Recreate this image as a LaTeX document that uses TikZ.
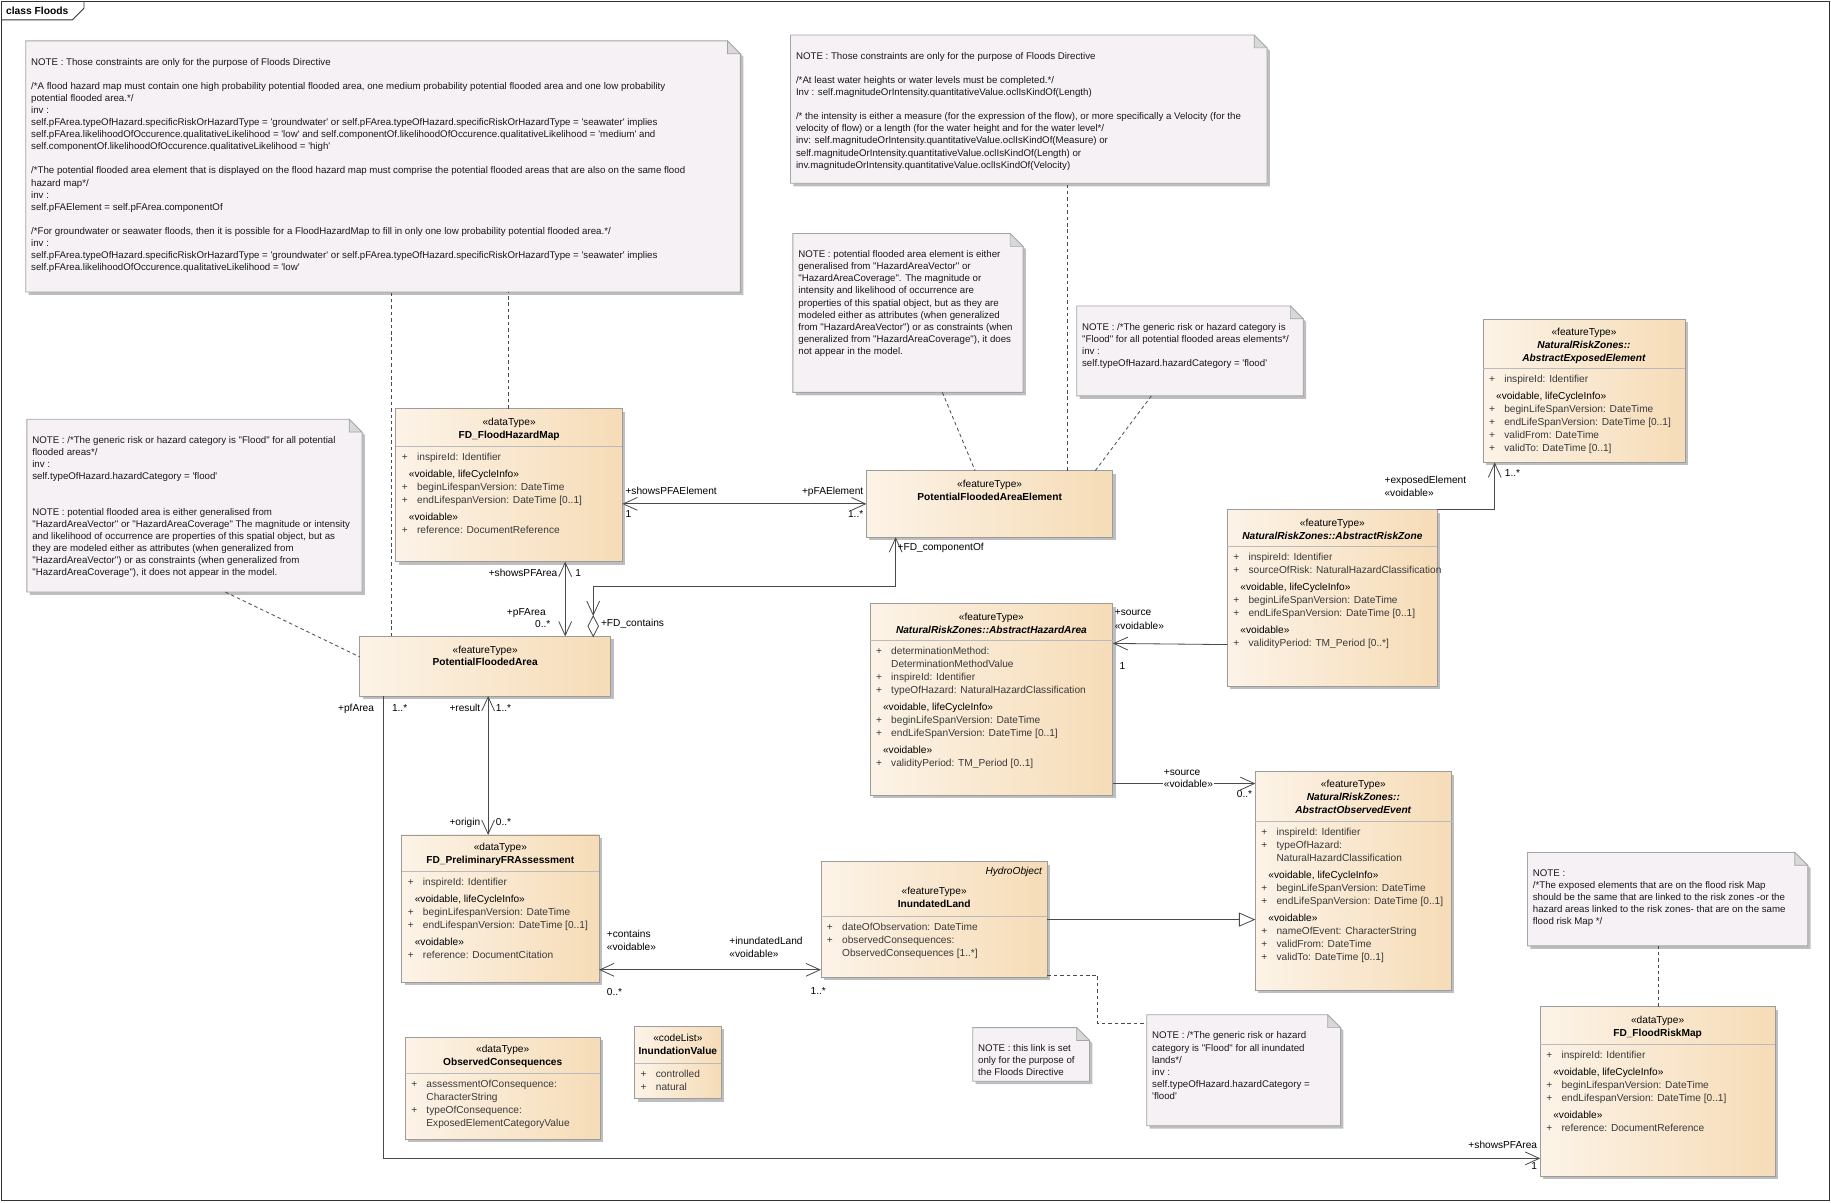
\documentclass[tikz,border=0pt]{standalone}
\usepackage{fontspec}
\setmainfont{Liberation Sans}[Ligatures=TeXOff]
\usepackage{tikz}
\usetikzlibrary{arrows.meta,shadows}
\definecolor{ClsLight}{HTML}{FCF3E7}
\definecolor{ClsDark}{HTML}{F6DCB7}
\definecolor{ClsLine}{HTML}{9C9C9C}
\definecolor{ClsSep}{HTML}{BABABA}
\definecolor{NoteFill}{HTML}{F5F1F5}
\definecolor{NoteLine}{HTML}{A5A5A5}
\definecolor{NoteFold}{HTML}{D8D8D8}
\definecolor{ShadowGrey}{HTML}{BEBEBE}
\definecolor{LinkGrey}{HTML}{4A4A4A}
\definecolor{AttrText}{HTML}{3A3A3A}

\newcommand{\hstrut}{\rule{0pt}{8pt}}
\newcommand{\attr}[1]{\makebox[13pt][l]{+}#1}
\newcommand{\attrcont}[1]{\hspace*{13pt}#1}
\newcommand{\stereo}[1]{\hspace*{6pt}{\color{black}«#1»}}

% class box: name, (x,y), width, height, separator offset, header offset, header, attributes
\newcommand{\umlclass}[8]{%
  \node[classbox, minimum width=#3pt, minimum height=#4pt] (#1) at #2 {};
  \node[classhead] (#1-h) at ([yshift=-#6pt]#1.north) {\hstrut#7};
  \draw[classsep] ([yshift=-#5pt]#1.north west) -- ([yshift=-#5pt]#1.north east);
  \node[classattr] (#1-a) at ([xshift=5pt,yshift=-#5pt-4pt]#1.north west) {\hstrut#8};
}
% class box with header only
\newcommand{\umlfeature}[5]{%
  \node[classbox, minimum width=#3pt, minimum height=#4pt] (#1) at #2 {};
  \node[classhead] (#1-h) at ([yshift=-6pt]#1.north) {\hstrut#5};
}
% note with folded corner
\newcommand{\umlnote}[5]{%
  \node[notearea, minimum width=#3pt, minimum height=#4pt] (#1) at #2 {};
  \filldraw[notebox] (#1.north west) -- ([xshift=-11pt]#1.north east) -- ([yshift=-11pt]#1.north east) -- (#1.south east) -- (#1.south west) -- cycle;
  \filldraw[notefold] ([xshift=-11pt]#1.north east) -- ([xshift=-11pt,yshift=-11pt]#1.north east) -- ([yshift=-11pt]#1.north east) -- cycle;
  \node[notetext] (#1-t) at ([xshift=4.5pt,yshift=-12.5pt]#1.north west) {\hstrut#5};
}

\begin{document}
\begin{tikzpicture}[
  x=1pt, y=-1pt,
  nav/.tip={Straight Barb[length=12pt,width=11pt]},
  gen/.tip={Triangle[open,length=14pt,width=12pt]},
  classbox/.style={draw=ClsLine, line width=0.7pt, left color=ClsLight, right color=ClsDark, anchor=north west, inner sep=0pt, outer sep=0pt, drop shadow={shadow xshift=2.5pt, shadow yshift=-2.5pt, fill=ShadowGrey, opacity=1}},
  classhead/.style={anchor=north, inner sep=0pt, align=center, font=\fontsize{8.7}{11.1}\selectfont},
  classattr/.style={anchor=north west, inner sep=0pt, align=left, text=AttrText, font=\fontsize{8.7}{11.1}\selectfont},
  classsep/.style={draw=ClsSep, line width=0.6pt},
  notearea/.style={anchor=north west, inner sep=0pt, outer sep=0pt},
  notebox/.style={draw=NoteLine, fill=NoteFill, line width=0.7pt, drop shadow={shadow xshift=2.5pt, shadow yshift=-2.5pt, fill=ShadowGrey, opacity=1}},
  notefold/.style={draw=NoteLine, fill=NoteFold, line width=0.6pt},
  notetext/.style={anchor=north west, inner sep=0pt, align=left, text=black!90, font=\fontsize{8.3}{10.35}\selectfont},
  notelink/.style={draw=LinkGrey, line width=0.7pt, dash pattern=on 3pt off 2.5pt},
  assoc/.style={draw=LinkGrey, line width=0.7pt},
  lbl/.style={inner sep=0.5pt, text height=6.3pt, text depth=1.8pt, font=\fontsize{8.7}{10}\selectfont}
]
\useasboundingbox (0,0) rectangle (1568,1030);

% frame
\node[draw=black!80, line width=0.7pt, anchor=north west, inner sep=0pt, minimum width=1565pt, minimum height=1027pt] (frame) at (1,1) {};
\node[anchor=west, inner sep=0pt, font=\fontsize{8.8}{10}\selectfont\bfseries] (title) at (5,9.5) {class Floods};
\draw[draw=black!80, line width=0.7pt] ([yshift=-16pt]frame.north west) -- ++(61,0) -- ++(10,-10) -- ++(0,-6);

% notes
\umlnote{n1}{(22,35)}{612}{215}{NOTE : Those constraints are only for the purpose of Floods Directive\\[10.4pt]
/*A flood hazard map must contain one high probability potential flooded area, one medium probability potential flooded area and one low probability\\
potential flooded area.*/\\
inv :\\
self.pFArea.typeOfHazard.specificRiskOrHazardType = 'groundwater' or self.pFArea.typeOfHazard.specificRiskOrHazardType = 'seawater' implies\\
self.pFArea.likelihoodOfOccurence.qualitativeLikelihood = 'low' and self.componentOf.likelihoodOfOccurence.qualitativeLikelihood = 'medium' and\\
self.componentOf.likelihoodOfOccurence.qualitativeLikelihood = 'high'\\[10.4pt]
/*The potential flooded area element that is displayed on the flood hazard map must comprise the potential flooded areas that are also on the same flood\\
hazard map*/\\
inv :\\
self.pFAElement = self.pFArea.componentOf\\[10.4pt]
/*For groundwater or seawater floods, then it is possible for a FloodHazardMap to fill in only one low probability potential flooded area.*/\\
inv :\\
self.pFArea.typeOfHazard.specificRiskOrHazardType = 'groundwater' or self.pFArea.typeOfHazard.specificRiskOrHazardType = 'seawater' implies\\
self.pFArea.likelihoodOfOccurence.qualitativeLikelihood = 'low'}

\umlnote{n2}{(677,30)}{408}{127}{NOTE : Those constraints are only for the purpose of Floods Directive\\[10.4pt]
/*At least water heights or water levels must be completed.*/\\
Inv : self.magnitudeOrIntensity.quantitativeValue.oclIsKindOf(Length)\\[10.4pt]
/* the intensity is either a measure (for the expression of the flow), or more specifically a Velocity (for the\\
velocity of flow) or a length (for the water height and for the water level*/\\
inv: self.magnitudeOrIntensity.quantitativeValue.oclIsKindOf(Measure) or\\
self.magnitudeOrIntensity.quantitativeValue.oclIsKindOf(Length) or\\
inv.magnitudeOrIntensity.quantitativeValue.oclIsKindOf(Velocity)}

\umlnote{n3}{(679,200)}{197}{136}{NOTE : potential flooded area element is either\\
generalised from "HazardAreaVector" or\\
"HazardAreaCoverage". The magnitude or\\
intensity and likelihood of occurrence are\\
properties of this spatial object, but as they are\\
modeled either as attributes (when generalized\\
from "HazardAreaVector") or as constraints (when\\
generalized from "HazardAreaCoverage"), it does\\
not appear in the model.}

\umlnote{n4}{(922,262)}{194}{77}{NOTE : /*The generic risk or hazard category is\\
"Flood" for all potential flooded areas elements*/\\
inv :\\
self.typeOfHazard.hazardCategory = 'flood'}

\umlnote{n5}{(23,359)}{287}{148}{NOTE : /*The generic risk or hazard category is "Flood" for all potential\\
flooded areas*/\\
inv :\\
self.typeOfHazard.hazardCategory = 'flood'\\[20pt]
NOTE : potential flooded area is either generalised from\\
"HazardAreaVector" or "HazardAreaCoverage" The magnitude or intensity\\
and likelihood of occurrence are properties of this spatial object, but as\\
they are modeled either as attributes (when generalized from\\
"HazardAreaVector") or as constraints (when generalized from\\
"HazardAreaCoverage"), it does not appear in the model.}

\umlnote{n6}{(833,880)}{100}{46}{NOTE : this link is set\\
only for the purpose of\\
the Floods Directive}

\umlnote{n7}{(982,869)}{166}{95}{NOTE : /*The generic risk or hazard\\
category is "Flood" for all inundated\\
lands*/\\
inv :\\
self.typeOfHazard.hazardCategory =\\
'flood'}

\umlnote{n8}{(1308,730)}{240}{80}{NOTE :\\
/*The exposed elements that are on the flood risk Map\\
should be the same that are linked to the risk zones -or the\\
hazard areas linked to the risk zones- that are on the same\\
flood risk Map */}

% classes
\umlclass{fhm}{(339,350)}{194}{131}{32}{6}{«dataType»\\\textbf{FD\_FloodHazardMap}}{%
\attr{inspireId: Identifier}\\[3.6pt]
\stereo{voidable, lifeCycleInfo}\\
\attr{beginLifespanVersion: DateTime}\\
\attr{endLifespanVersion: DateTime [0..1]}\\[3.6pt]
\stereo{voidable}\\
\attr{reference: DocumentReference}}

\umlfeature{pfae}{(742,403)}{211}{57}{«featureType»\\\textbf{PotentialFloodedAreaElement}}
\umlfeature{pfa}{(308,545)}{215}{51}{«featureType»\\\textbf{PotentialFloodedArea}}

\umlclass{fpra}{(344,715)}{169}{126}{31}{5}{«dataType»\\\textbf{FD\_PreliminaryFRAssessment}}{%
\attr{inspireId: Identifier}\\[3.6pt]
\stereo{voidable, lifeCycleInfo}\\
\attr{beginLifespanVersion: DateTime}\\
\attr{endLifespanVersion: DateTime [0..1]}\\[3.6pt]
\stereo{voidable}\\
\attr{reference: DocumentCitation}}

\umlclass{il}{(703,738)}{194}{99}{46.5}{20}{«featureType»\\\textbf{InundatedLand}}{%
\attr{dateOfObservation: DateTime}\\
\attr{observedConsequences:}\\
\attrcont{ObservedConsequences [1..*]}}
\node[lbl, anchor=east, font=\fontsize{8.7}{10}\selectfont\itshape] (il-s) at ([xshift=-4pt,yshift=-9pt]il.north east) {HydroObject};

\umlclass{aha}{(745,517)}{208}{164}{31.5}{6}{«featureType»\\\textbf{\itshape NaturalRiskZones::AbstractHazardArea}}{%
\attr{determinationMethod:}\\
\attrcont{DeterminationMethodValue}\\
\attr{inspireId: Identifier}\\
\attr{typeOfHazard: NaturalHazardClassification}\\[3.6pt]
\stereo{voidable, lifeCycleInfo}\\
\attr{beginLifeSpanVersion: DateTime}\\
\attr{endLifeSpanVersion: DateTime [0..1]}\\[3.6pt]
\stereo{voidable}\\
\attr{validityPeriod: TM\_Period [0..1]}}

\umlclass{arz}{(1051,436.5)}{180}{151}{31.5}{6}{«featureType»\\\textbf{\itshape NaturalRiskZones::AbstractRiskZone}}{%
\attr{inspireId: Identifier}\\
\attr{sourceOfRisk: NaturalHazardClassification}\\[3.6pt]
\stereo{voidable, lifeCycleInfo}\\
\attr{beginLifeSpanVersion: DateTime}\\
\attr{endLifeSpanVersion: DateTime [0..1]}\\[3.6pt]
\stereo{voidable}\\
\attr{validityPeriod: TM\_Period [0..*]}}

\umlclass{aee}{(1270,273.5)}{173}{122.5}{42}{5.5}{«featureType»\\\textbf{\itshape NaturalRiskZones::}\\\textbf{\itshape AbstractExposedElement}}{%
\attr{inspireId: Identifier}\\[3.6pt]
\stereo{voidable, lifeCycleInfo}\\
\attr{beginLifeSpanVersion: DateTime}\\
\attr{endLifeSpanVersion: DateTime [0..1]}\\
\attr{validFrom: DateTime}\\
\attr{validTo: DateTime [0..1]}}

\umlclass{aoe}{(1075,661)}{168}{187}{42.5}{5.5}{«featureType»\\\textbf{\itshape NaturalRiskZones::}\\\textbf{\itshape AbstractObservedEvent}}{%
\attr{inspireId: Identifier}\\
\attr{typeOfHazard:}\\
\attrcont{NaturalHazardClassification}\\[3.6pt]
\stereo{voidable, lifeCycleInfo}\\
\attr{beginLifeSpanVersion: DateTime}\\
\attr{endLifeSpanVersion: DateTime [0..1]}\\[3.6pt]
\stereo{voidable}\\
\attr{nameOfEvent: CharacterString}\\
\attr{validFrom: DateTime}\\
\attr{validTo: DateTime [0..1]}}

\umlclass{oc}{(347,888.5)}{167}{87}{31}{5}{«dataType»\\\textbf{ObservedConsequences}}{%
\attr{assessmentOfConsequence:}\\
\attrcont{CharacterString}\\
\attr{typeOfConsequence:}\\
\attrcont{ExposedElementCategoryValue}}

\umlclass{iv}{(543.5,879)}{74}{62}{31.5}{5}{«codeList»\\\textbf{InundationValue}}{%
\attr{controlled}\\
\attr{natural}}

\umlclass{frm}{(1319,862)}{201}{145}{32}{6}{«dataType»\\\textbf{FD\_FloodRiskMap}}{%
\attr{inspireId: Identifier}\\[3.6pt]
\stereo{voidable, lifeCycleInfo}\\
\attr{beginLifespanVersion: DateTime}\\
\attr{endLifespanVersion: DateTime [0..1]}\\[3.6pt]
\stereo{voidable}\\
\attr{reference: DocumentReference}}

% note links
\coordinate (fhmtop) at ([xshift=96pt]fhm.north west);
\coordinate (pfatop) at ([xshift=27pt]pfa.north west);
\coordinate (pfaetop) at ([xshift=172pt]pfae.north west);
\coordinate (frmtop) at ([xshift=101pt]frm.north west);
\draw[notelink] (fhmtop) -- (fhmtop |- n1.south);
\draw[notelink] (pfatop) -- (pfatop |- n1.south);
\draw[notelink] (pfaetop) -- (pfaetop |- n2.south);
\draw[notelink] ([xshift=128pt]n3.south west) -- ([xshift=93pt]pfae.north west);
\draw[notelink] ([xshift=64pt]n4.south west) -- ([xshift=196pt]pfae.north west);
\draw[notelink] ([xshift=170pt]n5.south west) -- ([yshift=8pt]pfa.west);
\draw[notelink] (frmtop) -- (frmtop |- n8.south);
\draw[notelink] ([yshift=2pt]il.south east) -| ([xshift=-42pt,yshift=-7.5pt]n7.north west) -- ([yshift=-7.5pt]n7.north west);

% associations
\draw[assoc, nav-nav] (fhm.east |- pfae.west) -- (pfae.west);
\draw[assoc, nav-nav] ([xshift=145pt]fhm.south west) -- ([xshift=176pt]pfa.north west);
\coordinate (dtop) at ([xshift=200pt,yshift=17.5pt]pfa.north west);
\draw[assoc, nav-nav] ([xshift=25pt]pfae.south west) |- ([yshift=25pt]dtop) -- (dtop);
\filldraw[assoc, fill=white] (dtop) -- ++(4.5,8.75) -- ++(-4.5,8.75) -- ++(-4.5,-8.75) -- cycle;
\draw[assoc, nav-nav] ([xshift=110pt]pfa.south west) -- ([xshift=74pt]fpra.north west);
\draw[assoc, -nav] ([xshift=20pt]pfa.south west) |- ([yshift=-57.5pt]frm.west);
\draw[assoc, nav-nav] ([yshift=-52.5pt]fpra.east) -- ([yshift=-43pt]il.west);
\draw[assoc, -gen] (il.east) -- (il.east -| aoe.west);
\draw[assoc, -nav] ([yshift=-40pt]arz.west) -- ([yshift=48pt]aha.east);
\draw[assoc, -nav] (arz.north east) -| ([xshift=10pt]aee.south west);
\draw[assoc, -nav] ([yshift=-72pt]aha.east) -- ([yshift=-10pt]aoe.north west);

% role names and multiplicities
\node[lbl, anchor=west] (l-spfae) at (535,421) {+showsPFAElement};
\node[lbl, anchor=west] (l-spfae-m) at (535,441) {1};
\node[lbl, anchor=east] (l-pfae) at (740,421) {+pFAElement};
\node[lbl, anchor=east] (l-pfae-m) at (740,441) {1..*};
\node[lbl, anchor=east] (l-spfa) at (478,491.5) {+showsPFArea};
\node[lbl, anchor=west] (l-spfa-m) at (492,491.5) {1};
\node[lbl, anchor=east] (l-pfarea) at (468,525) {+pFArea};
\node[lbl, anchor=east] (l-pfarea-m) at (472,535) {0..*};
\node[lbl, anchor=west] (l-comp) at (768,469.5) {+FD\_componentOf};
\node[lbl, anchor=west] (l-cont) at (514,534.5) {+FD\_contains};
\node[lbl, anchor=east] (l-result) at (412,607) {+result};
\node[lbl, anchor=west] (l-result-m) at (424,607) {1..*};
\node[lbl, anchor=east] (l-origin) at (412,704.5) {+origin};
\node[lbl, anchor=west] (l-origin-m) at (424,704.5) {0..*};
\node[lbl, anchor=east] (l-pfa2) at (321,607) {+pfArea};
\node[lbl, anchor=west] (l-pfa2-m) at (335,607) {1..*};
\node[lbl, anchor=east] (l-spfa2) at (1317,981) {+showsPFArea};
\node[lbl, anchor=east] (l-spfa2-m) at (1317,999) {1};
\node[lbl, anchor=west] (l-contains) at (519,801) {+contains};
\node[lbl, anchor=west] (l-contains-s) at (519,812) {«voidable»};
\node[lbl, anchor=west] (l-contains-m) at (519,850.5) {0..*};
\node[lbl, anchor=west] (l-inland) at (624,807) {+inundatedLand};
\node[lbl, anchor=west] (l-inland-s) at (624,818) {«voidable»};
\node[lbl, anchor=east] (l-inland-m) at (708,849) {1..*};
\node[lbl, anchor=west] (l-src1) at (954,525) {+source};
\node[lbl, anchor=west] (l-src1-s) at (954,536.5) {«voidable»};
\node[lbl, anchor=west] (l-src1-m) at (958,571) {1};
\node[lbl, anchor=west] (l-exp) at (1185,411.5) {+exposedElement};
\node[lbl, anchor=west] (l-exp-s) at (1185,423) {«voidable»};
\node[lbl, anchor=west] (l-exp-m) at (1288,406) {1..*};
\node[lbl, anchor=west] (l-src2) at (996,661.5) {+source};
\node[lbl, anchor=west, fill=white] (l-src2-s) at (996,672.5) {«voidable»};
\node[lbl, anchor=east] (l-src2-m) at (1073,681) {0..*};
\end{tikzpicture}
\end{document}
